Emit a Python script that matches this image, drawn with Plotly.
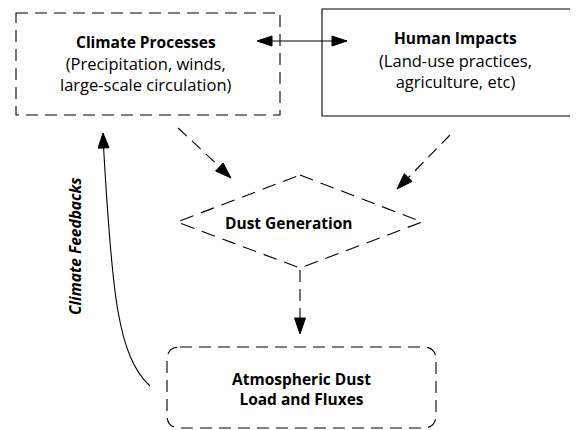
import plotly.graph_objects as go

# ---- content ----
node_titles = ["Climate Processes", "Human Impacts", "Dust Generation", "Atmospheric Dust<br>Load and Fluxes"]
node_subtitles = ["(Precipitation, winds,<br>large-scale circulation)", "(Land-use practices,<br>agriculture, etc)", "", ""]
feedback_label = "Climate Feedbacks"

W, H = 578, 430
OFF = 8  # default page body margin
FONT = "Open Sans"
DASH = "12px,7px"

fig = go.Figure()
shapes = []
annotations = []


def arrowhead(tip, frm, length=14, width=10):
    tx, ty = tip
    fx, fy = frm
    dx, dy = tx - fx, ty - fy
    n = (dx * dx + dy * dy) ** 0.5
    ux, uy = dx / n, dy / n
    bx, by = tx - ux * length, ty - uy * length
    px, py = -uy * width / 2, ux * width / 2
    path = f"M{tx},{ty} L{bx+px},{by+py} L{bx-px},{by-py} Z"
    shapes.append(dict(type="path", path=path, fillcolor="black",
                       line=dict(color="black", width=1), xref="x", yref="y"))


def line(p0, p1, dash=None, width=1.1):
    shapes.append(dict(type="line", x0=p0[0], y0=p0[1], x1=p1[0], y1=p1[1],
                       line=dict(color="black", width=width, dash=dash or "solid"),
                       xref="x", yref="y"))


LW = 1.1
# Climate Processes box (dashed)
shapes.append(dict(type="rect", x0=16, y0=13, x1=280, y1=115,
                   line=dict(color="black", width=LW, dash=DASH), xref="x", yref="y"))
# Human Impacts box (solid)
shapes.append(dict(type="rect", x0=322, y0=9, x1=600, y1=116,
                   line=dict(color="black", width=LW), xref="x", yref="y"))
# Dust Generation diamond (dashed)
shapes.append(dict(type="path", path="M300,175 L422,222 L300,268 L177,222 Z",
                   line=dict(color="black", width=LW, dash="14px,8px"), xref="x", yref="y"))
# Atmospheric Dust rounded box (dashed)
x0, y0, x1, y1, r = 167, 347, 436, 428, 13
rpath = (f"M{x0+r},{y0} L{x1-r},{y0} Q{x1},{y0} {x1},{y0+r} L{x1},{y1-r} "
         f"Q{x1},{y1} {x1-r},{y1} L{x0+r},{y1} Q{x0},{y1} {x0},{y1-r} "
         f"L{x0},{y0+r} Q{x0},{y0} {x0+r},{y0} Z")
shapes.append(dict(type="path", path=rpath,
                   line=dict(color="black", width=LW, dash=DASH), xref="x", yref="y"))

# double arrow between top boxes
line((268, 41), (336, 41))
arrowhead((257, 41), (300, 41), length=15, width=10)
arrowhead((347, 41), (300, 41), length=15, width=10)

# dashed arrows into diamond
line((178, 128), (222, 169), dash=DASH)
arrowhead((231, 178), (178, 128), length=16, width=11)
line((450, 135), (406, 180), dash=DASH)
arrowhead((397, 189), (450, 135), length=16, width=11)
# dashed arrow down
line((300, 270), (300, 320), dash=DASH)
arrowhead((300, 334), (300, 270), length=16, width=11)

# Climate feedbacks curve
shapes.append(dict(type="path", path="M150,386 C118,356 112,296 103.5,146",
                   line=dict(color="black", width=LW), xref="x", yref="y"))
arrowhead((103, 133), (104, 160), length=15, width=11)

# texts
def text(x, y, s, size=16, **kw):
    annotations.append(dict(x=x, y=y, xref="x", yref="y", text=s, showarrow=False,
                            font=dict(family=FONT, size=size, color="black"), **kw))

text(146, 42, f"<b>{node_titles[0]}</b>", size=15.5)
text(146, 74, node_subtitles[0], size=16.5)
text(455, 38, f"<b>{node_titles[1]}</b>", size=15.5)
text(455, 71, node_subtitles[1], size=16.5)
text(289, 223, f"<b>{node_titles[2]}</b>", size=15.5)
text(301, 389, f"<b>{node_titles[3]}</b>", size=15.5)
text(75, 246, f"<b><i>{feedback_label}</i></b>", size=15.5, textangle=-90)

fig.update_layout(
    width=W, height=H, margin=dict(l=0, r=0, t=0, b=0),
    paper_bgcolor="white", plot_bgcolor="white",
    xaxis=dict(range=[OFF, W + OFF], visible=False, fixedrange=True),
    yaxis=dict(range=[H + OFF, OFF], visible=False, fixedrange=True),
    shapes=shapes, annotations=annotations, showlegend=False,
)
fig.write_html("out.html")
